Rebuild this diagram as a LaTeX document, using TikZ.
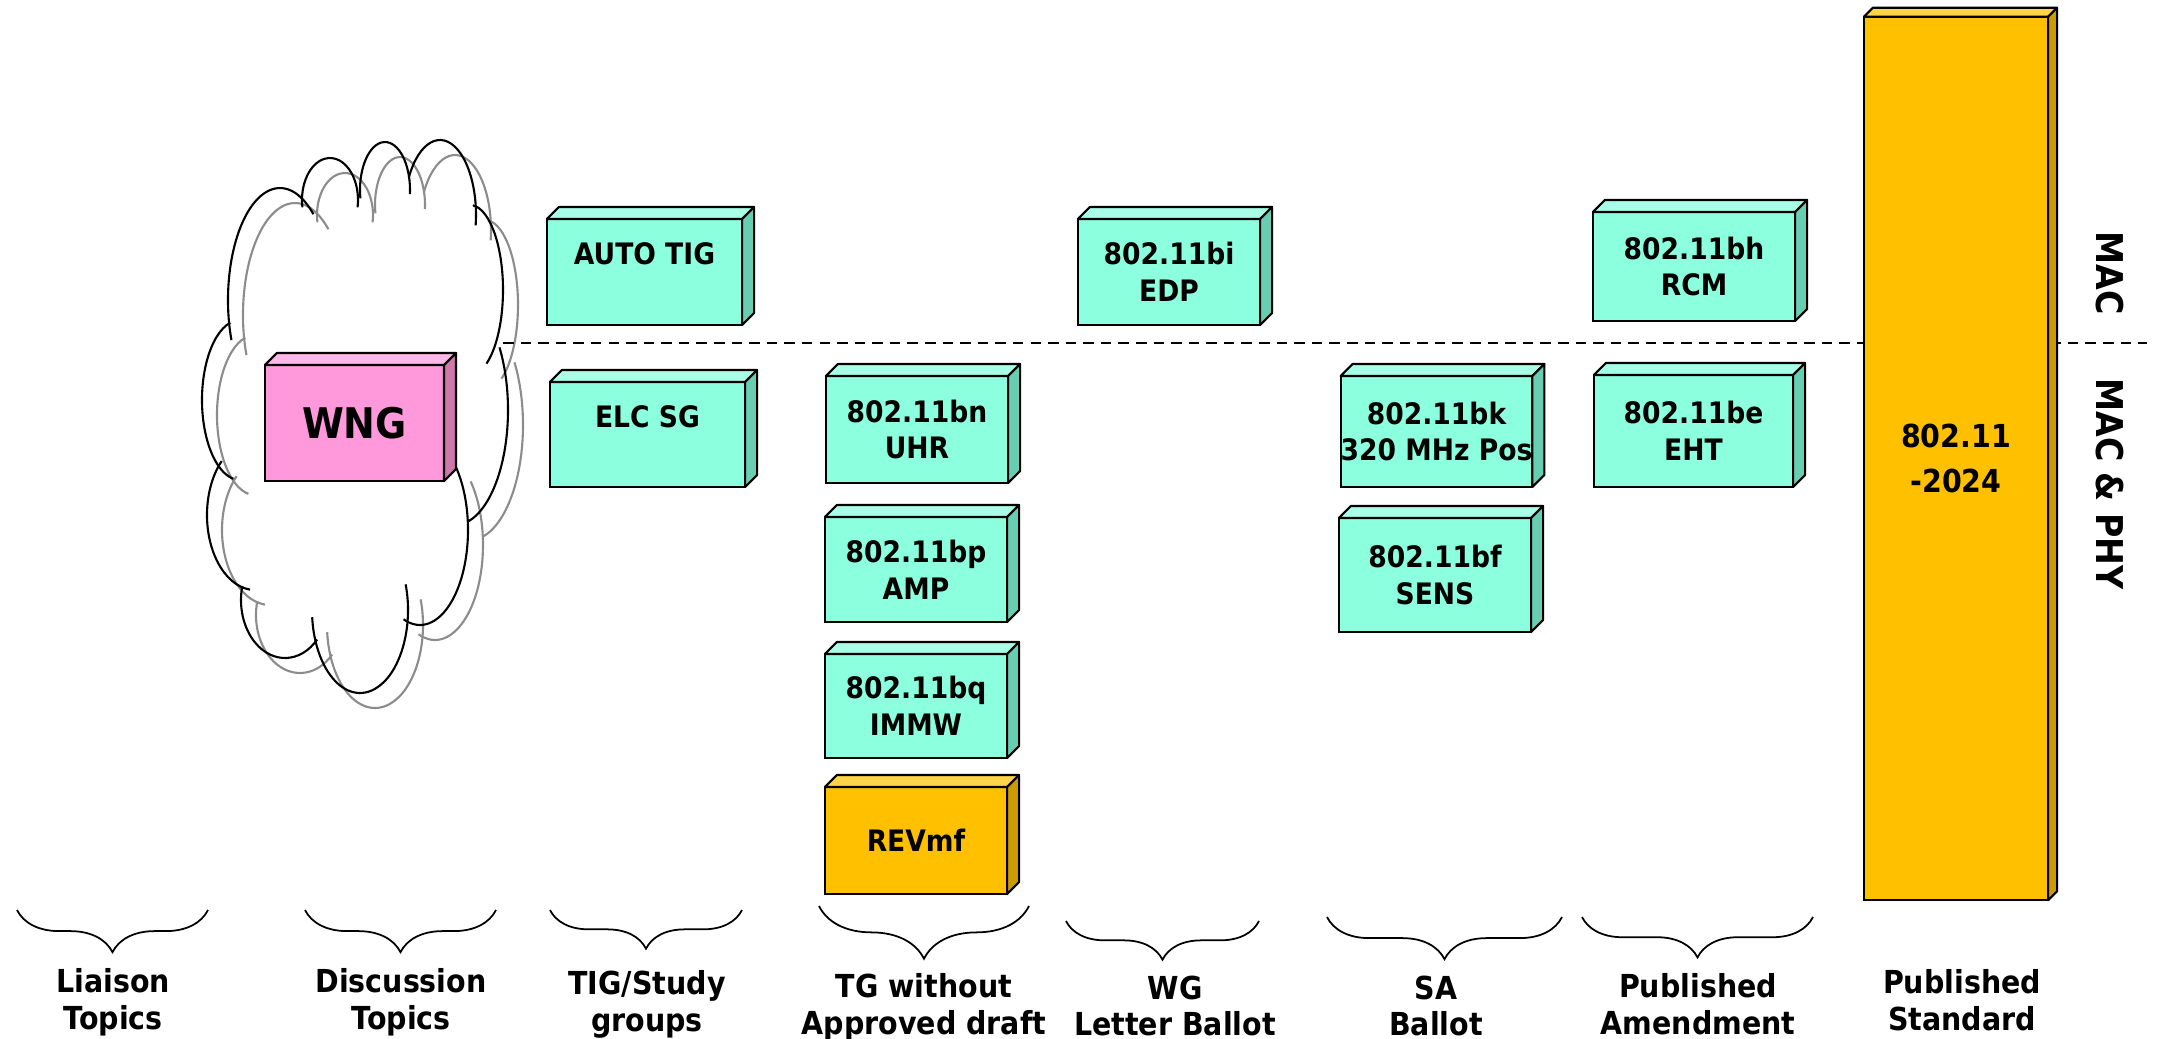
\documentclass[tikz,border=0pt]{standalone}
\usepackage{fontspec}
\setmainfont{DejaVu Sans}[FakeStretch=0.9]
\usetikzlibrary{decorations.pathreplacing}

\definecolor{aquafront}{RGB}{140,255,222}
\definecolor{aquatop}{RGB}{168,255,232}
\definecolor{aquaside}{RGB}{104,206,178}
\definecolor{goldfront}{RGB}{255,192,0}
\definecolor{goldtop}{RGB}{255,212,72}
\definecolor{goldside}{RGB}{204,155,0}
\definecolor{pinkfront}{RGB}{255,153,220}
\definecolor{pinktop}{RGB}{255,182,232}
\definecolor{pinkside}{RGB}{206,120,172}
\definecolor{cloudgray}{RGB}{140,140,140}

\tikzset{
  cube/.style={draw, line width=0.6pt, fill=#1front, inner sep=0pt, outer sep=0pt,
    align=center, font=\bfseries\fontsize{8.4}{10.5}\selectfont},
  cubetop/.style={draw, line width=0.6pt, fill=#1top, line join=round},
  cubeside/.style={draw, line width=0.6pt, fill=#1side, line join=round},
  phase/.style={align=center, font=\bfseries\fontsize{9}{10.5}\selectfont},
  phasebrace/.style={decorate, decoration={brace, mirror, amplitude=#1}, line width=0.5pt},
  layer/.style={rotate=-90, font=\bfseries\fontsize{10.5}{12}\selectfont},
  cloudline/.style={line width=0.6pt}
}

\begin{document}
\begin{tikzpicture}[x=0.01cm, y=-0.01cm]
  \useasboundingbox[fill=white] (0,0) rectangle (2162,1039);

  % cloud lobes, grey shadow first
  \foreach \off/\col in {15/cloudgray, 0/black} {
    \begin{scope}[shift={(\off,\off)}]
      \foreach \cx/\cy/\rx/\ry/\a/\b in {240/400/38/80/255/100, 280/300/52/112/159/310,
          330/200/28/42/170/370, 385/190/25/48/170/365, 440/215/36/75/210/368,
          470/290/33/85/275/420, 455/410/53/115/327/436, 420/530/48/95/318/470,
          360/610/48/83/-18/175, 285/600/44/58/43/194, 255/515/48/75/96/226}
        \draw[cloudline, \col] ({\cx+\rx*cos(\a)},{\cy+\ry*sin(\a)})
          arc[start angle=\a, end angle=\b, x radius=\rx, y radius=\ry];
    \end{scope}
  }

  % MAC / MAC & PHY divider
  \coordinate (divstart) at (503,343);
  \coordinate (divend) at (2147,343);
  \draw[line width=0.6pt, dash pattern=on 3pt off 2pt] (divstart) -- (divend);

  % boxes
  \node[cube=pink, minimum width=1.79cm, minimum height=1.16cm,
        font=\bfseries\fontsize{12}{14}\selectfont] (wng) at (354.5,423) {WNG};

  \node[cube=aqua, minimum width=1.95cm, minimum height=1.06cm] (autotig) at (644.5,272) {AUTO TIG\\~};
  \node[cube=aqua, minimum width=1.95cm, minimum height=1.05cm] (elcsg) at (647.5,434.5) {ELC SG\\~};

  \node[cube=aqua, minimum width=1.82cm, minimum height=1.07cm] (uhr) at (917,429.5) {802.11bn\\UHR};
  \node[cube=aqua, minimum width=1.82cm, minimum height=1.05cm] (amp) at (916,569.5) {802.11bp\\AMP};
  \node[cube=aqua, minimum width=1.82cm, minimum height=1.04cm] (immw) at (916,706) {802.11bq\\IMMW};
  \node[cube=gold, minimum width=1.82cm, minimum height=1.07cm] (revmf) at (916,840.5) {REVmf};

  \node[cube=aqua, minimum width=1.82cm, minimum height=1.06cm] (edp) at (1169,272) {802.11bi\\EDP};

  \node[cube=aqua, minimum width=1.89cm, minimum height=1.11cm] (pos) at (1436.5,431.5) {802.11bk\\320 MHz Pos};
  \node[cube=aqua, minimum width=1.92cm, minimum height=1.14cm] (sens) at (1435,575) {802.11bf\\SENS};

  \node[cube=aqua, minimum width=2.02cm, minimum height=1.09cm] (rcm) at (1694,266.5) {802.11bh\\RCM};
  \node[cube=aqua, minimum width=1.99cm, minimum height=1.12cm] (eht) at (1693.5,431) {802.11be\\EHT};

  \node[cube=gold, minimum width=1.84cm, minimum height=8.83cm,
        font=\bfseries\fontsize{9}{13}\selectfont] (std) at (1956,458.5) {802.11\\-2024};

  \foreach \n/\c/\d in {wng/pink/12, autotig/aqua/12, elcsg/aqua/12, uhr/aqua/12, amp/aqua/12,
      immw/aqua/12, revmf/gold/12, edp/aqua/12, pos/aqua/12, sens/aqua/12, rcm/aqua/12,
      eht/aqua/12, std/gold/9} {
    \draw[cubetop=\c] (\n.north west) -- ++(\d,-\d) -- ([shift={(\d,-\d)}]\n.north east) -- (\n.north east) -- cycle;
    \draw[cubeside=\c] (\n.north east) -- ++(\d,-\d) -- ([shift={(\d,-\d)}]\n.south east) -- (\n.south east) -- cycle;
  }

  % layer labels
  \node[layer] (mac) at (2110,273) {MAC};
  \node[layer] (macphy) at (2110,484) {MAC \& PHY};

  % phases
  \draw[phasebrace=12pt] (17,910) -- (208,910);
  \draw[phasebrace=12pt] (305,910) -- (496,910);
  \draw[phasebrace=11pt] (550,910) -- (742,910);
  \draw[phasebrace=15pt] (819,906) -- (1029,906);
  \draw[phasebrace=11pt] (1066,921) -- (1259,921);
  \draw[phasebrace=12pt] (1327,917) -- (1562,917);
  \draw[phasebrace=11.5pt] (1582,917) -- (1813,917);

  \node[phase] (liaison) at (113,1002) {Liaison\\Topics};
  \node[phase] (discussion) at (401,1002) {Discussion\\Topics};
  \node[phase] (tig) at (647,1004) {TIG/Study\\groups};
  \node[phase] (tg) at (924,1007) {TG without\\Approved draft};
  \node[phase] (wglb) at (1175,1006) {WG\\Letter Ballot};
  \node[phase] (sab) at (1436,1006) {SA\\Ballot};
  \node[phase] (pubamd) at (1698,1004) {Published\\Amendment};
  \node[phase] (pubstd) at (1962,1000) {Published\\Standard};
\end{tikzpicture}
\end{document}
